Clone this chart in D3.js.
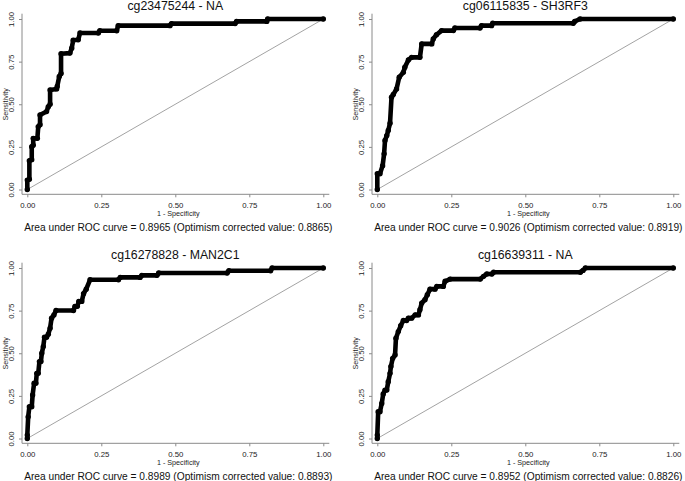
<!DOCTYPE html>
<html>
<head>
<meta charset="utf-8">
<script src="https://cdn.jsdelivr.net/npm/d3@7"></script>
<style>
  body { margin: 0; background: #fff; }
  svg { display: block; font-family: "Liberation Sans", Arial, sans-serif; }
</style>
</head>
<body>
<script>
// ROC curves: [1 - specificity, sensitivity]
var titles = ["cg23475244 - NA", "cg06115835 - SH3RF3", "cg16278828 - MAN2C1", "cg16639311 - NA"];
var aucValues = ["0.8965", "0.9026", "0.8989", "0.8952"];
var optimismValues = ["0.8865", "0.8919", "0.8893", "0.8826"];
var xTicks = [0, 0.25, 0.5, 0.75, 1];
var yTicks = [0, 0.25, 0.5, 0.75, 1];

var roc1 = [[0,0],[0,0.055],[0.007,0.06],[0.007,0.169],[0.015,0.175],[0.015,0.251],[0.020,0.26],[0.020,0.30],
  [0.034,0.30],[0.037,0.369],[0.043,0.38],[0.043,0.437],[0.065,0.457],[0.071,0.486],[0.077,0.50],[0.077,0.584],
  [0.099,0.59],[0.101,0.604],[0.108,0.663],[0.114,0.68],[0.114,0.796],[0.144,0.80],[0.150,0.829],[0.155,0.875],
  [0.172,0.878],[0.178,0.918],[0.240,0.918],[0.245,0.931],[0.302,0.931],[0.307,0.961],[0.482,0.961],[0.487,0.973],
  [0.702,0.973],[0.707,0.986],[0.809,0.986],[0.812,1],[1,1]];

var roc2 = [[0,0],[0,0.092],[0.009,0.092],[0.018,0.14],[0.023,0.209],[0.026,0.287],[0.032,0.316],[0.037,0.346],
  [0.043,0.389],[0.048,0.541],[0.054,0.557],[0.065,0.59],[0.074,0.658],[0.088,0.687],[0.093,0.717],[0.105,0.76],
  [0.116,0.775],[0.144,0.775],[0.150,0.854],[0.184,0.854],[0.189,0.883],[0.200,0.908],[0.217,0.932],[0.257,0.932],
  [0.262,0.947],[0.347,0.947],[0.352,0.961],[0.386,0.961],[0.390,0.975],[0.662,0.975],[0.667,0.986],[0.685,1],[1,1]];

var roc3 = [[0,0],[0,0.02],[0.003,0.127],[0.007,0.186],[0.015,0.186],[0.018,0.255],[0.023,0.324],[0.029,0.324],
  [0.032,0.382],[0.037,0.382],[0.041,0.451],[0.046,0.451],[0.049,0.5],[0.054,0.539],[0.058,0.594],[0.065,0.594],
  [0.071,0.612],[0.077,0.647],[0.082,0.706],[0.090,0.725],[0.097,0.751],[0.156,0.751],[0.161,0.775],[0.169,0.775],
  [0.174,0.804],[0.184,0.804],[0.190,0.849],[0.199,0.876],[0.212,0.931],[0.308,0.931],[0.314,0.945],[0.381,0.945],
  [0.387,0.957],[0.438,0.957],[0.444,0.971],[0.675,0.971],[0.681,0.984],[0.822,0.984],[0.827,1],[1,1]];

var roc4 = [[0,0],[0,0.02],[0.003,0.157],[0.009,0.157],[0.015,0.206],[0.020,0.261],[0.026,0.284],[0.032,0.284],
  [0.037,0.333],[0.043,0.382],[0.046,0.422],[0.052,0.47],[0.060,0.49],[0.063,0.588],[0.071,0.627],[0.079,0.661],
  [0.088,0.692],[0.099,0.692],[0.105,0.706],[0.116,0.706],[0.128,0.725],[0.139,0.725],[0.144,0.755],[0.150,0.794],
  [0.161,0.814],[0.169,0.843],[0.178,0.876],[0.195,0.876],[0.201,0.892],[0.223,0.892],[0.229,0.922],[0.246,0.935],
  [0.348,0.935],[0.359,0.951],[0.370,0.965],[0.387,0.965],[0.393,0.975],[0.686,0.975],[0.695,0.986],[0.703,1],[1,1]];

var curves = [roc1, roc2, roc3, roc4];

var width = 685, height = 481;
var pw = 296, ph = 170.5;          // inner plot size
var colX = [27.3, 377.3], rowY = [19, 268];

var svg = d3.select("body").append("svg")
  .attr("width", width)
  .attr("height", height);

var x = d3.scaleLinear().domain([0, 1]).range([0, pw]);
var y = d3.scaleLinear().domain([0, 1]).range([ph, 0]);
var fmt = d3.format(".2f");

var line = d3.line()
  .x(function(d) { return x(d[0]); })
  .y(function(d) { return y(d[1]); });

curves.forEach(function(data, i) {
  var g = svg.append("g")
    .attr("transform", "translate(" + colX[i % 2] + "," + rowY[Math.floor(i / 2)] + ")");

  // x axis
  var xa = g.append("g")
    .attr("transform", "translate(0," + (ph + 4.8) + ")")
    .call(d3.axisBottom(x).tickValues(xTicks).tickFormat(fmt).tickSize(3));
  xa.select(".domain").attr("d", "M-5.3,0H302").attr("stroke", "#8a8a8a");
  xa.selectAll(".tick line").attr("stroke", "#8a8a8a");
  xa.selectAll("text")
    .attr("y", 11.3).attr("dy", "0.35em")
    .attr("font-size", 7.8).attr("fill", "#222")
    .attr("font-family", "Liberation Sans, Arial, sans-serif");

  // y axis
  var ya = g.append("g")
    .attr("transform", "translate(-5.3,0)")
    .call(d3.axisLeft(y).tickValues(yTicks).tickFormat(fmt).tickSize(3));
  ya.select(".domain").attr("d", "M0,-5.3V" + (ph + 4.8)).attr("stroke", "#8a8a8a");
  ya.selectAll(".tick line").attr("stroke", "#8a8a8a");
  ya.selectAll("text")
    .attr("transform", "rotate(-90)")
    .attr("x", 0).attr("y", -11).attr("dy", "0.35em")
    .attr("text-anchor", "middle")
    .attr("font-size", 7.8).attr("fill", "#222")
    .attr("font-family", "Liberation Sans, Arial, sans-serif");

  // reference diagonal
  g.append("line")
    .attr("x1", x(0)).attr("y1", y(0))
    .attr("x2", x(1)).attr("y2", y(1))
    .attr("stroke", "#8c8c8c")
    .attr("stroke-width", 0.8);

  // roc curve, thick like the dense markers
  g.append("path")
    .datum(data)
    .attr("d", line)
    .attr("fill", "none")
    .attr("stroke", "#000")
    .attr("stroke-width", 4.6)
    .attr("stroke-linejoin", "round")
    .attr("stroke-linecap", "round");

  g.selectAll("circle")
    .data(data)
    .enter().append("circle")
    .attr("cx", function(d) { return x(d[0]); })
    .attr("cy", function(d) { return y(d[1]); })
    .attr("r", 2.7)
    .attr("fill", "#000");

  // titles
  g.append("text")
    .attr("x", pw / 2).attr("y", -13.3).attr("dy", "0.35em")
    .attr("text-anchor", "middle")
    .attr("font-size", 12.3)
    .attr("fill", "#111")
    .text(titles[i]);

  g.append("text")
    .attr("x", pw / 2 + 3).attr("y", ph + 24).attr("dy", "0.35em")
    .attr("text-anchor", "middle")
    .attr("font-size", 7.2)
    .attr("fill", "#222")
    .text("1 - Specificity");

  g.append("text")
    .attr("transform", "translate(-21.5," + (ph / 2) + ") rotate(-90)")
    .attr("dy", "0.35em")
    .attr("text-anchor", "middle")
    .attr("font-size", 7.2)
    .attr("fill", "#222")
    .text("Sensitivity");

  g.append("text")
    .attr("x", pw / 2 + 3).attr("y", ph + 38).attr("dy", "0.35em")
    .attr("text-anchor", "middle")
    .attr("font-size", 10.2)
    .attr("fill", "#111")
    .text("Area under ROC curve = " + aucValues[i] + " (Optimism corrected value: " + optimismValues[i] + ")");
});
</script>
</body>
</html>
